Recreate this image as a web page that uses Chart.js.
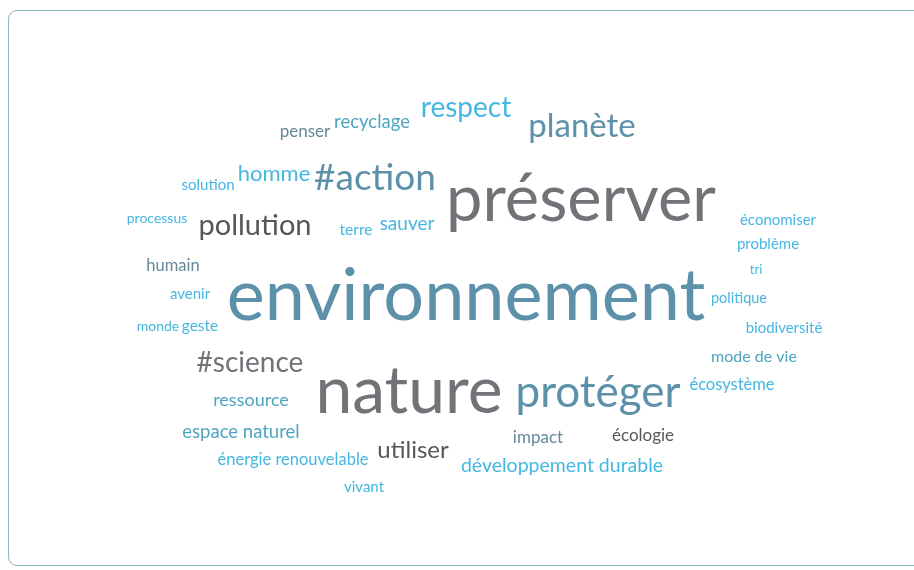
<!DOCTYPE html>
<html lang="fr">
<head>
  <meta charset="UTF-8">
  <title>Nuage de mots</title>
  <script src="https://cdn.jsdelivr.net/npm/chart.js"></script>
  <style>
    body {
      margin: 0;
      background: #ffffff;
      width: 914px;
      height: 570px;
      overflow: hidden;
      position: relative;
    }
    .frame {
      position: absolute;
      left: 8px;
      top: 10px;
      width: 930px;
      height: 556px;
      border: 1.5px solid #8cb8c2;
      border-radius: 9px;
      box-sizing: border-box;
    }
    .chart-box {
      position: absolute;
      left: 0;
      top: 0;
      width: 914px;
      height: 570px;
    }
  </style>
</head>
<body>
  <div class="frame"></div>
  <div class="chart-box">
    <canvas id="cloud"></canvas>
  </div>

  <script>
    // words of the cloud, their weight and where they sit (x / y in cloud units)
    const words = [
      'penser', 'recyclage', 'respect', 'planète', 'solution', 'homme', '#action',
      'préserver', 'processus', 'pollution', 'terre', 'sauver', 'économiser',
      'problème', 'humain', 'tri', 'avenir', 'environnement', 'politique',
      'monde', 'geste', 'biodiversité', 'mode de vie', '#science', 'nature',
      'protéger', 'écosystème', 'ressource', 'espace naturel', 'impact',
      'écologie', 'utiliser', 'énergie renouvelable', 'développement durable', 'vivant'
    ];
    const weights = [
      17, 18.5, 28, 33, 15, 22, 37,
      65, 14, 29, 15.5, 19, 15,
      15, 16.5, 13, 15, 72, 14.5,
      14, 15.5, 15, 16, 28, 66,
      44, 16.5, 18, 18.5, 17,
      17, 24, 16.5, 19.5, 15
    ];
    const posX = [
      305, 372, 466, 582, 208, 274, 375,
      581, 157, 255, 356, 407, 778,
      768, 173, 756, 190, 466, 739,
      158, 200, 784, 754, 250, 409,
      598, 732, 251, 241, 538,
      643, 413, 293, 562, 364
    ];
    const posY = [
      132, 122, 108, 126, 185, 174, 178,
      200, 218, 226, 230, 224, 220,
      244, 266, 270, 294, 297, 298,
      326, 326, 328, 357, 363, 392,
      393, 385, 400, 432, 438,
      436, 450, 460, 466, 487
    ];
    // colour group of each word
    const groups = [
      5, 4, 3, 2, 3, 3, 2,
      1, 3, 0, 3, 3, 3,
      3, 5, 3, 3, 2, 3,
      3, 3, 3, 4, 1, 1,
      2, 3, 4, 4, 5,
      0, 0, 3, 3, 3
    ];

    const palette = ['#56565b', '#727279', '#5d90a9', '#45b7e1', '#4fa5c0', '#62899b'];

    const wordLabels = {
      id: 'wordLabels',
      afterDatasetsDraw(chart) {
        const ctx = chart.ctx;
        const meta = chart.getDatasetMeta(0);
        ctx.save();
        ctx.textAlign = 'center';
        ctx.textBaseline = 'middle';
        meta.data.forEach((pt, i) => {
          ctx.font = weights[i] + 'px Lato, "Open Sans", sans-serif';
          ctx.fillStyle = palette[groups[i]];
          ctx.fillText(words[i], pt.x, pt.y);
        });
        ctx.restore();
      }
    };

    new Chart(document.getElementById('cloud'), {
      type: 'scatter',
      data: {
        datasets: [{
          data: words.map((w, i) => ({ x: posX[i], y: posY[i] })),
          pointRadius: 0,
          pointHoverRadius: 0
        }]
      },
      options: {
        responsive: true,
        maintainAspectRatio: false,
        animation: false,
        layout: { padding: 0 },
        plugins: {
          legend: { display: false },
          tooltip: { enabled: false }
        },
        scales: {
          x: { type: 'linear', min: 0, max: 914, display: false },
          y: { type: 'linear', min: 0, max: 570, reverse: true, display: false }
        }
      },
      plugins: [wordLabels]
    });
  </script>
</body>
</html>
